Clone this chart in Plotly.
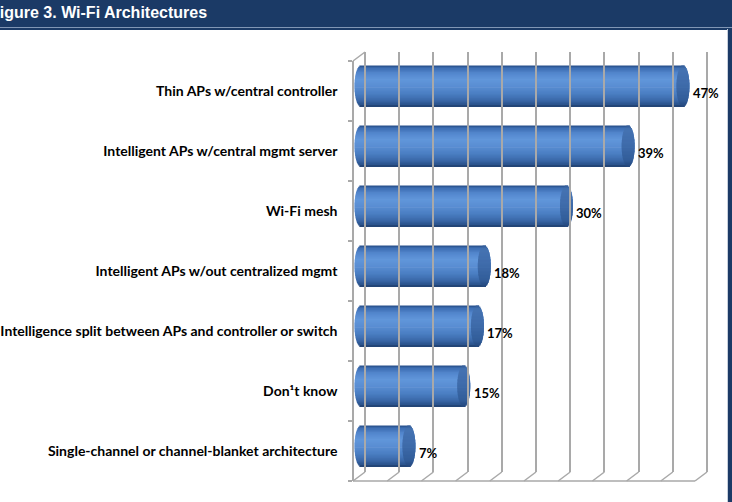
import math
import plotly.graph_objects as go

# ---------------- data ----------------
categories = [
    "Thin APs w/central controller",
    "Intelligent APs w/central mgmt server",
    "Wi-Fi mesh",
    "Intelligent APs w/out centralized mgmt",
    "Intelligence split between APs and controller or switch",
    "Don\u00b9t know",
    "Single-channel or channel-blanket architecture",
]
values = [47, 39, 30, 18, 17, 15, 7]
value_labels = ["47%", "39%", "30%", "18%", "17%", "15%", "7%"]
grid_ticks = [0, 5, 10, 15, 20, 25, 30, 35, 40, 45, 50]
title_text = "Figure 3. Wi-Fi Architectures"

# ---------------- geometry / style ----------------
W, H = 732, 502
def px(x):
    return x / W
def py(y):
    return 1 - y / H

n = len(categories)
cats_bottom_up = categories[::-1]

BAR_ZERO, BAR_K = 361, 6.85      # bar plane (middle depth)
GRID_ZERO, GRID_K = 365, 6.84    # back wall
FRONT_ZERO = 353                 # front plane
GRID_COLOR = "#a9a9a9"
NAVY = "#1b3a66"

x_rng = [-1.5, 50.5]
g_rng = [-0.2, 50.2]

def hex2rgb(h):
    h = h.lstrip("#")
    return [int(h[i:i + 2], 16) for i in (0, 2, 4)]

def interp(stops, t):
    for (t0, c0), (t1, c1) in zip(stops[:-1], stops[1:]):
        if t0 <= t <= t1:
            f = 0 if t1 == t0 else (t - t0) / (t1 - t0)
            a0, a1 = hex2rgb(c0), hex2rgb(c1)
            r = [round(a0[k] + (a1[k] - a0[k]) * f) for k in range(3)]
            return "rgb(%d,%d,%d)" % tuple(r)
    return stops[-1][1]

body_stops = [
    (0.00, "#24487f"), (0.06, "#3b6cb0"), (0.20, "#5487ce"),
    (0.35, "#6196da"), (0.50, "#5a8ed3"), (0.70, "#4a7ec2"),
    (0.85, "#3b69aa"), (0.95, "#2b548e"), (1.00, "#1f3e6c"),
]
cap_stops = [
    (0.00, "#2f5a96"), (0.10, "#4573b2"), (0.45, "#3f6cab"),
    (0.85, "#325d99"), (1.00, "#23477c"),
]

fig = go.Figure()

N = 30
thick = 0.683
dh = thick / N
ov = 0.012
a = 6.5 / BAR_K

for layer, stops in (("body", body_stops), ("cap", cap_stops)):
    for i in range(N):
        tc = (i + 0.5) / N
        s = math.sqrt(max(0.0, 1 - (2 * tc - 1) ** 2))
        off = thick / 2 - (i + 1) * dh
        w = dh + (ov if i > 0 else 0)
        if layer == "body":
            xs = [v + 2 * a * s for v in values]
            bs = [-a * s] * n
        else:
            xs = [2 * a * s] * n
            bs = [v - a * s for v in values]
        fig.add_bar(
            orientation="h", y=categories, x=xs, base=bs,
            offset=off, width=w,
            marker=dict(color=interp(stops, tc), line=dict(width=0)),
            hoverinfo="skip", showlegend=False, xaxis="x", yaxis="y",
        )

# invisible trace carrying the front category axis
fig.add_scatter(x=values, y=categories, mode="markers", marker=dict(opacity=0),
                hoverinfo="skip", showlegend=False, xaxis="x", yaxis="y3")
# invisible trace carrying the back-wall grid axis
fig.add_scatter(x=grid_ticks, y=[0.5] * len(grid_ticks), mode="markers",
                marker=dict(opacity=0), hoverinfo="skip", showlegend=False,
                xaxis="x2", yaxis="y2")

annotations = []
for c, v, t in zip(categories, values, value_labels):
    annotations.append(dict(
        xref="x", yref="y", x=v, y=c, text=t, showarrow=False,
        xanchor="left", yanchor="middle", xshift=8, yshift=-6,
        font=dict(family="Lato", size=13, color="#000000", weight="bold"),
    ))
annotations.append(dict(
    xref="paper", yref="paper", x=px(-12), y=py(13), text=title_text,
    showarrow=False, xanchor="left", yanchor="middle",
    font=dict(family="Liberation Sans", size=16, color="#ffffff", weight="bold"),
))

shapes = [
    dict(type="rect", xref="paper", yref="paper", x0=0, x1=1, y0=py(30), y1=1,
         fillcolor=NAVY, line=dict(width=0), layer="below"),
    dict(type="line", xref="paper", yref="paper", x0=0, x1=1, y0=py(27.5), y1=py(27.5),
         line=dict(color="#8196b5", width=1)),
    dict(type="rect", xref="paper", yref="paper", x0=px(728), x1=1, y0=0, y1=py(29),
         fillcolor=NAVY, line=dict(width=0)),
    dict(type="line", xref="paper", yref="paper", x0=px(727.5), x1=px(727.5), y0=0, y1=py(29),
         line=dict(color="#c8d0dc", width=1)),
    # top-left wall edge
    dict(type="line", xref="paper", yref="paper", x0=px(FRONT_ZERO), y0=py(61),
         x1=px(GRID_ZERO), y1=py(52), line=dict(color=GRID_COLOR, width=1.5)),
    # front floor edge
    dict(type="line", xref="paper", yref="paper", x0=px(FRONT_ZERO), y0=py(481),
         x1=px(FRONT_ZERO + grid_ticks[-1] * GRID_K), y1=py(481),
         line=dict(color=GRID_COLOR, width=1.5)),
]
for g in grid_ticks:
    shapes.append(dict(type="line", xref="paper", yref="paper",
                       x0=px(FRONT_ZERO + g * GRID_K), y0=py(481),
                       x1=px(GRID_ZERO + g * GRID_K), y1=py(472),
                       line=dict(color=GRID_COLOR, width=1.5)))

fig.update_layout(
    width=W, height=H, margin=dict(l=0, r=0, t=0, b=0),
    paper_bgcolor="#ffffff", plot_bgcolor="rgba(0,0,0,0)",
    barmode="overlay", showlegend=False,
    xaxis=dict(domain=[px(BAR_ZERO + x_rng[0] * BAR_K), px(BAR_ZERO + x_rng[1] * BAR_K)],
               range=x_rng, visible=False, anchor="y", fixedrange=True),
    yaxis=dict(domain=[py(476.5), py(56.5)], type="category",
               categoryorder="array", categoryarray=cats_bottom_up,
               range=[-0.5, n - 0.5], visible=False, anchor="x"),
    xaxis2=dict(domain=[px(GRID_ZERO + g_rng[0] * GRID_K), px(GRID_ZERO + g_rng[1] * GRID_K)],
                range=g_rng, tickvals=grid_ticks, showgrid=True, gridcolor=GRID_COLOR,
                gridwidth=1.5, showticklabels=False, ticks="", zeroline=False,
                showline=False, anchor="y2"),
    yaxis2=dict(domain=[py(472), py(52)], range=[0, 1], visible=False, anchor="x2"),
    yaxis3=dict(domain=[py(481), py(61)], type="category",
                categoryorder="array", categoryarray=cats_bottom_up,
                range=[-0.5, n - 0.5], anchor="free", position=px(FRONT_ZERO), side="left",
                showline=True, linecolor=GRID_COLOR, linewidth=1.5,
                ticks="outside", ticklen=4, tickcolor=GRID_COLOR, tickwidth=1.5,
                tickson="boundaries", showgrid=False, zeroline=False,
                ticklabelstandoff=12,
                tickfont=dict(family="Lato", size=14, color="#000000", weight="bold")),
    annotations=annotations, shapes=shapes,
)

fig.write_html("out.html")
